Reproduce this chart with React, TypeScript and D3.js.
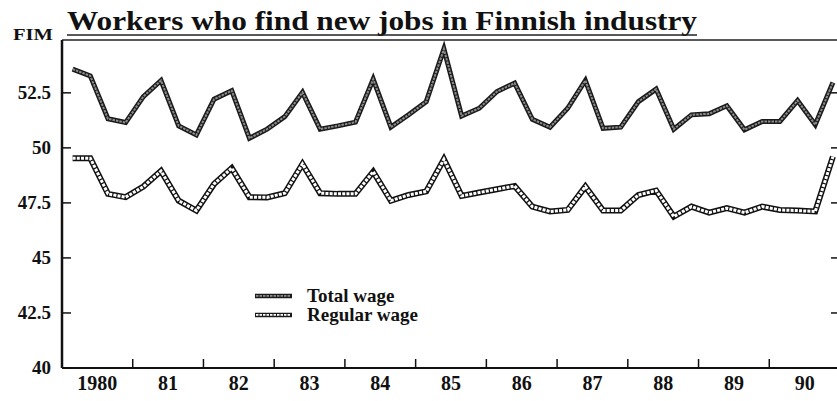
import React from 'react'
import * as d3 from 'd3'

const years = ['1980', '81', '82', '83', '84', '85', '86', '87', '88', '89', '90']

// quarterly values, 1980 Q1 .. 1990 Q4
const totalWage = [
    53.58, 53.27, 51.32, 51.15, 52.33, 53.06, 51.0, 50.59,
    52.21, 52.6, 50.44, 50.85, 51.42, 52.52, 50.85, 51.0,
    51.17, 53.12, 50.94, 51.5, 52.1, 54.49, 51.45, 51.8,
    52.56, 52.94, 51.3, 50.94, 51.8, 53.06, 50.89, 50.94,
    52.1, 52.67, 50.85, 51.5, 51.55, 51.91, 50.82, 51.2,
    51.2, 52.15, 51.05, 52.97,
]

const regularWage = [
    49.53, 49.53, 47.91, 47.76, 48.24, 48.95, 47.6, 47.15,
    48.36, 49.08, 47.76, 47.75, 47.94, 49.27, 47.94, 47.91,
    47.91, 48.92, 47.6, 47.86, 48.02, 49.48, 47.82, 47.97,
    48.12, 48.27, 47.33, 47.11, 47.18, 48.24, 47.15, 47.15,
    47.86, 48.06, 46.88, 47.33, 47.06, 47.26, 47.06, 47.33,
    47.18, 47.15, 47.11, 49.6,
]

const yTicks = [40, 42.5, 45, 47.5, 50, 52.5]
const yTickLabels = ['40', '42.5', '45', '47.5', '50', '52.5']

const seriesNames = ['Total wage', 'Regular wage']

const W = 837
const H = 401
const margin = { top: 40, right: -3, bottom: 33, left: 62 }
const serif = 'Liberation Serif, Times New Roman, DejaVu Serif, serif'

const App = () => {
    const x = d3.scaleLinear().domain([1980, 1991]).range([margin.left, W - margin.right])
    const y = d3.scaleLinear().domain([40, 54.9]).range([H - margin.bottom, margin.top])

    const qx = (i: number) => x(1980 + (i + 0.6) / 4)
    const line = d3.line<number>().x((_, i) => qx(i)).y(d => y(d))

    const totalPath = line(totalWage) || ''
    const regularPath = line(regularWage) || ''

    const x0 = x(1980), x1 = x(1991)
    const yb = y(40), yt = y(54.9)

    const legendX = x(1980) + 193
    const legendY = [y(42.5) - 17, y(42.5) + 2]

    return (
        <svg width={W} height={H} style={{ position: 'absolute', left: 0, top: 0, background: '#fff' }}>
            {/* title */}
            <text x={67} y={30} fontFamily={serif} fontWeight="bold" fontSize={27}
                textLength={630} lengthAdjust="spacingAndGlyphs" fill="#111">
                Workers who find new jobs in Finnish industry
            </text>
            <line x1={67} x2={697} y1={35} y2={35} stroke="#222" strokeWidth={1.5} />

            <text x={13} y={40} fontFamily={serif} fontWeight="bold" fontSize={16} fill="#111"
                textLength={40} lengthAdjust="spacingAndGlyphs">FIM</text>

            {/* frame */}
            <line x1={x0} x2={x1} y1={yt} y2={yt} stroke="#222" strokeWidth={1.5} />
            <line x1={x0} x2={x0} y1={yt} y2={yb} stroke="#111" strokeWidth={2.5} />
            <line x1={x0} x2={x1} y1={yb} y2={yb} stroke="#111" strokeWidth={2} />
            <line x1={x1} x2={x1} y1={yt} y2={yb} stroke="#111" strokeWidth={2} />

            {/* y axis */}
            {yTicks.map((t, i) => (
                <g key={'y' + t}>
                    <line x1={x0} x2={x0 + 9} y1={y(t)} y2={y(t)} stroke="#111" strokeWidth={1.5} />
                    <line x1={x1 - 9} x2={x1} y1={y(t)} y2={y(t)} stroke="#111" strokeWidth={1.5} />
                    <text x={51} y={y(t) + 6} textAnchor="end" fontFamily={serif} fontWeight="bold"
                        fontSize={19} fill="#111">{yTickLabels[i]}</text>
                </g>
            ))}

            {/* x axis */}
            {years.slice(1).map((_, i) => (
                <line key={'xt' + i} x1={x(1981 + i)} x2={x(1981 + i)} y1={yb} y2={yb - 9}
                    stroke="#111" strokeWidth={1.5} />
            ))}
            {years.map((label, i) => (
                <text key={'xl' + i} x={x(1980 + i + 0.5)} y={390} textAnchor="middle" fontFamily={serif}
                    fontWeight="bold" fontSize={20} fill="#111">{label}</text>
            ))}

            {/* series */}
            <path d={totalPath} fill="none" stroke="#1a1a1a" strokeWidth={5} strokeLinejoin="miter" />
            <path d={totalPath} fill="none" stroke="#8c8c8c" strokeWidth={2} strokeDasharray="2.5 1" />
            <path d={regularPath} fill="none" stroke="#111" strokeWidth={6} strokeLinejoin="miter" />
            <path d={regularPath} fill="none" stroke="#fff" strokeWidth={3} strokeDasharray="3 1.2" />

            {/* legend */}
            {seriesNames.map((name, i) => (
                <g key={name}>
                    <line x1={legendX} x2={legendX + 37} y1={legendY[i]} y2={legendY[i]}
                        stroke="#1a1a1a" strokeWidth={4.5} />
                    <line x1={legendX + 1} x2={legendX + 36} y1={legendY[i]} y2={legendY[i]}
                        stroke={i === 0 ? '#8c8c8c' : '#fff'} strokeWidth={1.8} strokeDasharray="2.5 1" />
                    <text x={legendX + 52} y={legendY[i] + 6} fontFamily={serif} fontWeight="bold"
                        fontSize={19} fill="#111">{name}</text>
                </g>
            ))}
        </svg>
    )
}

export default App
